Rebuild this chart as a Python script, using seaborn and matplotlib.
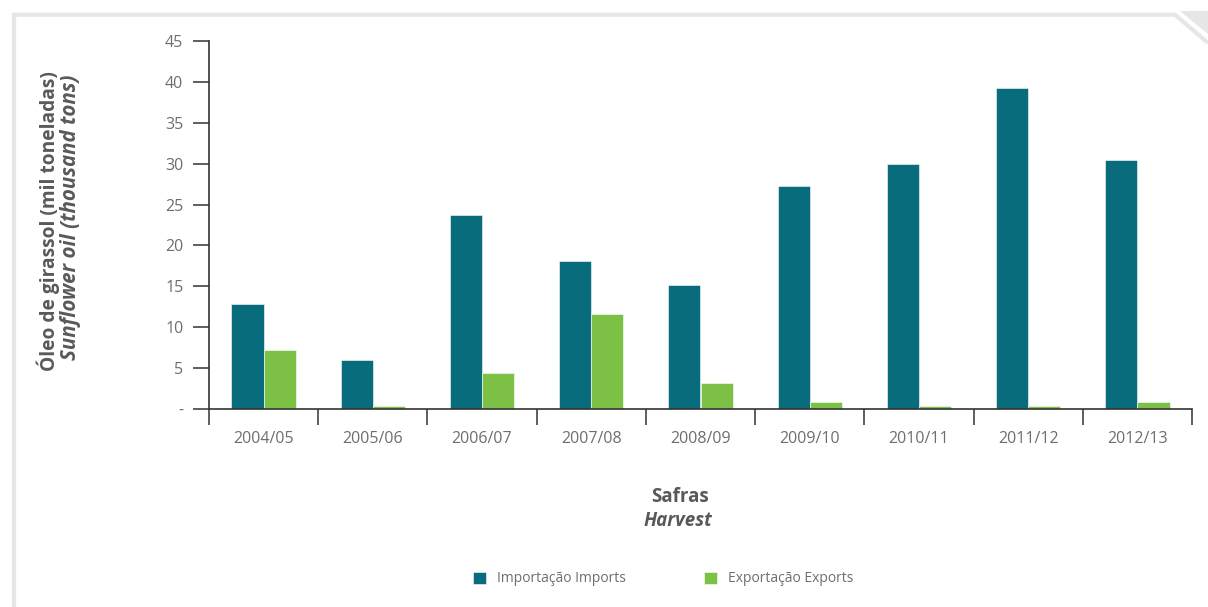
import matplotlib
matplotlib.use("Agg")
import matplotlib.pyplot as plt
import seaborn as sns
import pandas as pd
from matplotlib.lines import Line2D
from matplotlib.patches import Polygon

categories = ['2004/05', '2005/06', '2006/07', '2007/08', '2008/09',
              '2009/10', '2010/11', '2011/12', '2012/13']
imports = [12.8, 6.0, 23.7, 18.1, 15.2, 27.3, 30.0, 39.3, 30.5]
exports = [7.2, 0.4, 4.4, 11.6, 3.2, 0.8, 0.4, 0.4, 0.8]
series_names = ['Importação Imports', 'Exportação Exports']
y_ticks = [0, 5, 10, 15, 20, 25, 30, 35, 40, 45]
y_tick_labels = ['-', '5', '10', '15', '20', '25', '30', '35', '40', '45']

colors = ['#086c7d', '#7cc046']
text_gray = '#6d6e71'
title_gray = '#58595b'
frame_gray = '#e6e6e6'

df = pd.DataFrame({
    'Safra': categories * 2,
    'Valor': imports + exports,
    'Serie': [series_names[0]] * len(categories) + [series_names[1]] * len(categories),
})

sns.set_theme(style='white')
plt.rcParams['font.family'] = ['Open Sans', 'DejaVu Sans']

W, H = 1208, 607
fig = plt.figure(figsize=(W / 100, H / 100), dpi=100)
ax = fig.add_axes([209 / W, 1 - 409 / H, (1192 - 209) / W, (409 - 41) / H])

sns.barplot(data=df, x='Safra', y='Valor', hue='Serie', palette=colors,
            width=0.59, gap=0, ax=ax, legend=True, saturation=1,
            edgecolor='white', linewidth=0.4)

ax.set_xlim(-0.5, len(categories) - 0.5)
ax.set_ylim(0, 45)
ax.set_yticks(y_ticks)
ax.set_yticklabels(y_tick_labels)
ax.set_xlabel('')
ax.set_ylabel('')

for s in ['top', 'right']:
    ax.spines[s].set_visible(False)
for s in ['left', 'bottom']:
    ax.spines[s].set_color('#333333')
    ax.spines[s].set_linewidth(1.2)

ax.tick_params(axis='y', which='major', length=11.5, width=1.1, color='#333333',
               direction='out', pad=7, labelsize=11.5, labelcolor=text_gray, left=True)
ax.tick_params(axis='x', which='major', length=0, pad=16, labelsize=11.5,
               labelcolor=text_gray, bottom=True)
ax.set_xticks([i - 0.5 for i in range(len(categories) + 1)], minor=True)
ax.tick_params(axis='x', which='minor', length=11.5, width=1.1, color='#333333',
               direction='out', bottom=True)

# y-axis label (two lines)
fig.text(48 / W, 1 - 221 / H, 'Óleo de girassol (mil toneladas)', rotation=90,
         ha='center', va='center', fontsize=13.8, fontweight='bold', color=title_gray)
fig.text(71 / W, 1 - 217 / H, 'Sunflower oil (thousand tons)', rotation=90,
         ha='center', va='center', fontsize=14.8, fontweight='bold', style='italic',
         color=title_gray)

# x-axis label
fig.text(680 / W, 1 - 497 / H, 'Safras', ha='center', va='center', fontsize=13.5,
         fontweight='bold', color=title_gray)
fig.text(678 / W, 1 - 521 / H, 'Harvest', ha='center', va='center', fontsize=13.5,
         fontweight='bold', style='italic', color=title_gray)

# legend
handles, labels = ax.get_legend_handles_labels()
ax.get_legend().remove()
fig.legend(handles, labels, loc='center', bbox_to_anchor=(663 / W, 1 - 579 / H),
           ncol=2, frameon=False, fontsize=10, labelcolor=text_gray,
           handlelength=0.95, handleheight=0.95, handletextpad=0.8,
           columnspacing=5.6)

# decorative frame
def fx(x):
    return x / W

def fy(y):
    return 1 - y / H

fig.add_artist(Line2D([fx(14), fx(14)], [fy(13), fy(607)], color=frame_gray,
                      linewidth=3, solid_capstyle='butt'))
fig.add_artist(Line2D([fx(12), fx(1175), fx(1208)], [fy(14.7), fy(14.7), fy(43)],
                      color=frame_gray, linewidth=3, solid_capstyle='butt',
                      solid_joinstyle='miter'))
fig.add_artist(Polygon([[fx(1180), fy(11)], [fx(1208), fy(11)], [fx(1208), fy(34)]],
                       closed=True, facecolor=frame_gray, edgecolor='none'))

fig.savefig('out.png', dpi=100)
